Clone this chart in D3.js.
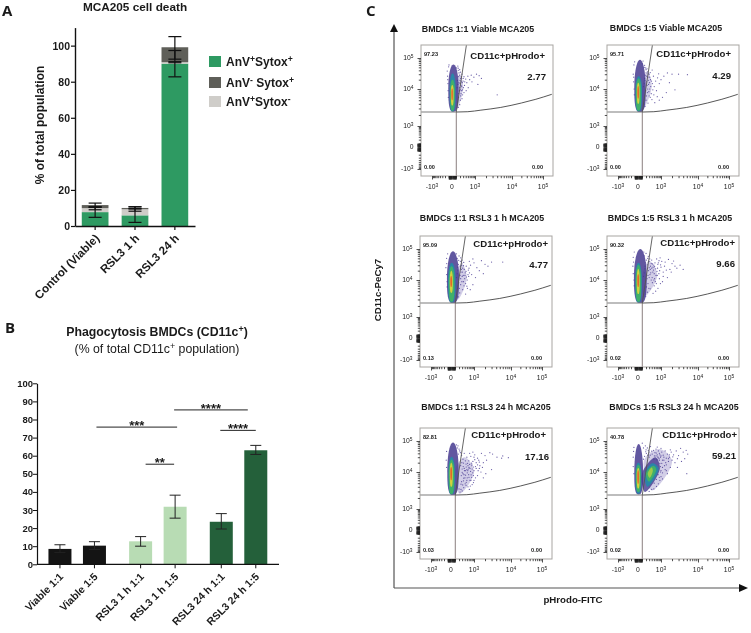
<!DOCTYPE html>
<html><head><meta charset="utf-8">
<script src="https://cdn.jsdelivr.net/npm/d3@7"></script>
<style>
html,body{margin:0;padding:0;background:#fff}
svg{display:block;filter:blur(0.3px)}
text{font-family:"Liberation Sans",Arial,sans-serif;fill:#1a1a1a}
</style></head><body><svg id="c" width="751" height="633"></svg>
<script>
// ---------- Panel A data
const deathCategories=["Control (Viable)","RSL3 1 h","RSL3 24 h"];
const seriesGreen=[7.7,5.9,90];
const seriesLight=[2.2,3.4,0.8];
const seriesDark=[1.7,0.7,8.3];
const errGreen=[[4.8,10.6],[2,9.6],[82.7,97.3]];
const errLight=[[9,10.6],[8.2,10.6],[90.5,91.1]];
const errDark=[[10.3,12.7],[9.5,10.7],[92.5,105]];
const deathTicks=[0,20,40,60,80,100];
// ---------- Panel B data
const phagoCategories=["Viable 1:1","Viable 1:5","RSL3 1 h 1:1","RSL3 1 h 1:5","RSL3 24 h 1:1","RSL3 24 h 1:5"];
const phagoGroups=["Viable","RSL3 1 h","RSL3 24 h"];
const phagoValues=[8.5,10.3,12.7,31.8,23.5,63];
const phagoLow=[6.5,8.2,10,25.5,19.5,60.7];
const phagoHigh=[10.8,12.5,15.3,38.2,28,65.7];
const phagoTicks=[0,10,20,30,40,50,60,70,80,90,100];
const sigFrom=[1,2,3,4];
const sigTo=[3,3,5,5];
const sigLevel=[75.8,55.3,85.3,74];
const sigLabel=["***","**","****","****"];
// ---------- Panel C data
const flowTitles=["BMDCs 1:1 Viable MCA205","BMDCs 1:5 Viable MCA205","BMDCs 1:1 RSL3 1 h MCA205","BMDCs 1:5 RSL3 1 h MCA205","BMDCs 1:1 RSL3 24 h MCA205","BMDCs 1:5 RSL3 24 h MCA205"];
const flowUL=["97.23","95.71","95.09","90.32","82.81","40.78"];
const flowLL=["0.00","0.00","0.13","0.02","0.03","0.02"];
const flowLR=["0.00","0.00","0.00","0.00","0.00","0.00"];
const flowUR=["2.77","4.29","4.77","9.66","17.16","59.21"];
const flowTickValues=[-1000,0,1000,10000,100000];
const flowGateH=2400, flowGateV=100;
const flowCurve=[[100,2400],[500,2450],[1450,2700],[5000,3200],[20000,4200],[59000,5300],[192000,7200]];
const flowDiag=[[100,2400],[430,260000]];
// left population contours, outer to inner: [xLow,xHigh,yLow,yMid,yHigh]
const blob1=[[-100,160,2450,11000,62000],[-65,85,2450,9500,32000],[-50,65,2600,8500,20000],[-30,38,3600,8500,13500],[-16,20,5000,8000,10500]];
const blob2=[[-100,190,2400,11000,88000],[-70,95,2450,9500,26000],[-55,75,2600,8500,22000],[-30,38,4000,9000,16000],[-16,22,5500,9000,12500]];
const blob3=[[-110,200,2400,11000,85000],[-80,105,2450,10000,36000],[-60,80,2600,9000,28000],[-32,42,4500,10000,20000],[-18,24,6500,10000,13500]];
const blob4=[[-110,220,2400,12000,100000],[-75,90,2450,10000,36000],[-60,75,2600,9500,31000],[-32,40,4200,10000,23000],[-18,24,6500,11000,15500]];
const blob5=[[-100,190,2400,11000,90000],[-70,90,2450,10000,31000],[-60,75,2550,9500,25000],[-32,40,4000,10000,20000],[-18,24,6000,11000,14500]];
const blob6=[[-100,120,2500,9500,80000],[-70,80,2600,8500,20000],[-55,65,2900,8500,17000],[-32,38,3600,8500,13500],[-18,22,4800,8500,11500]];
// second population of the last panel: bottom, right, top, left
const secondBlob6=[
 [[170,2900],[900,13000],[580,30000],[100,9500]],
 [[240,4000],[800,13000],[430,19000],[170,9500]],
 [[290,5500],[640,12000],[480,16000],[200,9500]],
 [[320,7000],[450,11000],[400,14000],[250,9000]]];
// sparse purple haze beside the main population: bottom, right, top, left
const haze1=[[130,3000],[300,12000],[200,30000],[100,12000]];
const haze2=[[130,3000],[400,12000],[250,36000],[100,12000]];
const haze3=[[170,3000],[500,12000],[280,34000],[100,12000]];
const haze4=[[150,3500],[700,14000],[300,42000],[100,14000]];
const haze5=[[220,2600],[1000,10000],[400,30000],[100,12000]];
const haze6=[[400,3200],[2000,22000],[900,55000],[150,25000]];
const dots1=[[150,40000],[180,28000],[220,22000],[200,15000],[260,30000],[300,18000],[330,25000],[250,12000],[180,9000],[230,7500],[280,9500],[350,13000],[400,21000],[450,16000],[500,26000],[520,11000],[600,20000],[700,28000],[750,17000],[900,24000],[1100,30000],[1300,27000],[1500,22000],[1200,14000],[160,6000],[210,5000],[190,3800],[150,3200],[130,4500],[140,55000],[110,48000],[170,33000],[-120,26000],[-110,15000],[-130,38000],[-90,52000],[-80,60000],[120,11000],[140,14000],[130,19000],[160,25000],[420,9000],[4000,7000],[240,17000],[210,35000],[190,11000],[160,7500],[230,13000],[270,16000],[310,11000],[200,19000],[240,25000],[280,7000],[330,8000],[220,6500],[260,5500],[300,22000],[360,17000],[190,42000],[150,47000],[170,16000],[210,9500],[250,9000],[-105,9000],[-115,20000],[-100,6000]];
const dots2=[[150,50000],[200,42000],[240,36000],[180,28000],[260,24000],[300,30000],[350,20000],[220,17000],[280,14000],[320,10000],[240,8000],[300,6500],[380,7500],[200,5000],[260,4200],[170,3400],[430,15000],[480,26000],[520,12000],[600,18000],[650,9000],[720,23000],[800,31000],[850,15000],[1000,20000],[1200,26000],[1500,33000],[2000,30000],[2400,9500],[5200,29000],[3000,30000],[1100,6000],[850,5000],[550,4300],[-130,30000],[-120,17000],[-110,60000],[-90,75000],[120,80000],[100,65000],[130,12000],[150,15000],[170,19000],[190,9000],[210,6500],[160,22000],[340,34000],[420,41000],[1700,16000],[1400,8000],[700,6200],[230,13000],[270,19000],[310,16000],[360,12000],[250,10000],[290,8500],[340,6000],[220,26000],[270,31000],[320,24000],[390,18000],[200,33000],[160,58000],[190,48000],[230,45000],[450,9500],[500,7000],[410,5200],[-105,10000],[-115,24000],[-100,7000]];
const dots3=[[150,50000],[200,60000],[240,40000],[280,30000],[180,32000],[320,24000],[360,37000],[260,18000],[300,13000],[350,9000],[250,7500],[320,5500],[220,4500],[180,3500],[420,17000],[470,28000],[520,10000],[580,21000],[640,40000],[720,30000],[800,15000],[900,48000],[1000,36000],[1200,25000],[1600,42000],[2000,32000],[3000,38000],[6000,38000],[1400,20000],[1100,12000],[900,7500],[700,5500],[600,13000],[500,6800],[440,4200],[-140,25000],[-120,15000],[-120,50000],[-90,70000],[130,70000],[130,12000],[150,16000],[170,21000],[190,8500],[210,6000],[160,26000],[400,11000],[460,19000],[380,22000],[650,17000],[300,44000],[250,52000],[2400,28000],[1800,16000],[230,14000],[270,22000],[310,18000],[340,14000],[250,11000],[290,9000],[370,7000],[240,28000],[290,35000],[350,29000],[410,14000],[440,8000],[530,6000],[480,12500],[560,15000],[620,24000],[190,43000],[-105,9000],[-115,34000],[-105,6500]];
const dots4=[[150,60000],[200,72000],[250,50000],[300,40000],[180,36000],[350,28000],[400,44000],[280,20000],[330,15000],[380,10000],[260,8000],[340,5800],[240,4700],[190,3600],[450,18000],[500,30000],[540,11000],[600,23000],[660,48000],[740,32000],[820,16000],[920,52000],[1050,40000],[1250,28000],[1600,46000],[2000,34000],[2700,24000],[3300,30000],[4000,22000],[1400,21000],[1150,13000],[950,8000],[750,6000],[620,14000],[520,7000],[460,4400],[-140,28000],[-130,16000],[-130,54000],[-100,80000],[140,80000],[130,13000],[150,17000],[170,23000],[190,9500],[210,6500],[170,28000],[420,12000],[480,21000],[400,24000],[680,19000],[320,48000],[270,58000],[2400,28000],[1900,18000],[1500,12000],[1100,9000],[860,11000],[720,24000],[560,36000],[440,33000],[300,25000],[260,14000],[230,11000],[360,17000],[430,8500],[580,9000],[780,36000],[1000,26000],[1300,38000],[1750,22000],[2200,41000],[600,5000],[520,16000],[830,42000],[240,31000],[210,44000],[300,12000],[340,22000],[380,34000],[460,26000],[540,27000],[700,14000],[880,20000],[960,31000],[1150,18000],[640,8000],[500,10000],[290,6000],[-110,10000],[-120,38000],[-105,7000]];
const dots5=[[150,60000],[200,55000],[240,42000],[280,34000],[180,38000],[330,26000],[380,40000],[290,20000],[340,15000],[390,11000],[270,8000],[350,5800],[260,4700],[200,3500],[460,18000],[500,30000],[550,11000],[610,23000],[660,40000],[740,32000],[820,16000],[900,44000],[1050,36000],[1250,28000],[1600,40000],[2000,34000],[2700,42000],[3200,38000],[4200,30000],[5600,28000],[8500,29000],[6000,33000],[1400,21000],[1150,13000],[950,8000],[750,6000],[620,14000],[520,7000],[460,4400],[-130,24000],[-120,14000],[-120,46000],[170,70000],[130,75000],[220,48000],[300,12500],[330,9000],[410,7000],[470,5300],[560,4000],[640,3400],[360,3800],[300,3100],[230,2900],[680,6000],[800,7200],[890,9500],[1000,11000],[1100,15000],[1250,17000],[1400,13000],[1550,10000],[1250,8000],[1000,6000],[840,4600],[700,4200],[600,8500],[720,10500],[840,12500],[960,14500],[660,17500],[780,19500],[900,22000],[1050,25000],[540,19000],[430,23000],[350,19500],[250,16000],[300,9800],[380,13000],[470,14500],[580,12500],[520,9500],[440,8200],[360,6800],[280,5500],[1800,20000],[2200,24000],[1700,14000],[2100,9000],[1800,7000],[3000,12000],[1150,20000],[1300,11000],[1100,7000],[950,5200],[760,8400],[680,13000],[820,18000],[620,7200],[500,12000],[560,16000],[440,11000],[370,8500],[320,4500],[420,4800],[500,6000],[260,3400],[1450,16000],[1350,24000],[1000,30000]];
const dots6=[[180,70000],[240,60000],[300,44000],[200,52000],[350,66000],[420,38000],[480,50000],[560,42000],[620,55000],[700,36000],[780,48000],[860,40000],[950,30000],[1050,44000],[1150,35000],[1300,48000],[1500,38000],[1700,30000],[1900,44000],[2200,36000],[2600,48000],[3000,34000],[3400,58000],[4000,44000],[4800,50000],[5300,38000],[2000,24000],[2400,20000],[2800,27000],[1600,22000],[1400,17000],[1200,24000],[1050,19000],[1300,12000],[1100,9500],[1000,7500],[900,6000],[780,4800],[650,4100],[500,3500],[1800,14000],[1500,9000],[950,15000],[860,24000],[760,29000],[680,25000],[1100,14000],[1000,11000],[760,8500],[640,6300],[520,5000],[400,3400],[300,3000],[210,40000],[160,32000],[130,26000],[-130,30000],[-120,46000],[-130,15000],[-110,62000],[100,85000],[130,60000],[5000,9000],[3600,22000],[4400,27000],[2800,14000],[300,30000],[250,35000],[1800,52000],[1000,58000],[700,64000],[500,26000],[620,33000],[900,36000],[1200,30000],[1600,27000],[2100,31000],[190,45000],[270,50000],[340,35000],[400,47000],[530,33000],[640,41000],[740,31000],[830,27000],[1000,33000],[1100,24000],[1350,20000],[1250,16000],[1400,28000],[1700,36000],[900,19000],[950,10000],[1100,6500],[850,7200],[1400,11000],[-110,9000]];
const minorDecades=[10,100,1000,10000];
const minorMultiples=[2,3,4,5,6,7,8,9];

const allBlobs=[blob1,blob2,blob3,blob4,blob5,blob6];
const allDots=[dots1,dots2,dots3,dots4,dots5,dots6];
const allHaze=[haze1,haze2,haze3,haze4,haze5,haze6];
// layout
const panelBoxes=[[421,45],[607,45],[420,236],[607,236],[420,428],[607,428]];
const titleAt=[[478,32],[666,31],[482,221],[670,221],[486,410],[674,410]];
const gateAt=[[545,59],[731,57],[548,247],[735,246],[546,438],[737,438]];
const valueAt=[[546,80],[731,79],[548,268],[735,267],[549,460],[736,459]];
const levelColors=["#46388f","#2a85a8","#3fb06a","#d2d23e","#e4682c"];
const secondLevelColors=["#46388f","#2a85a8","#3fb06a","#9fca4c"];

const svg=d3.select("#c");
function supText(sel,parts){
  parts.forEach(p=>{
    const t=sel.append("tspan").text(p[0]);
    if(p[1]==="s") t.attr("dy","-0.42em").attr("font-size","0.72em");
    if(p[1]==="n") t.attr("dy","0.3em");
  });
}
function letter(txt,x,y){svg.append("text").attr("x",x).attr("y",y).style("font-family","'Open Sans'").attr("font-size",15).attr("font-weight",700).text(txt);}
letter("A",2,16);letter("B",5,333);letter("C",366,16);

// ---------- Panel A
{
 const g=svg.append("g");
 const y=d3.scaleLinear().domain([0,110]).range([226,27.6]);
 const x=d3.scaleBand().domain(deathCategories).range([75,195]).paddingInner(0.33).paddingOuter(0.17);
 const stack=[seriesGreen,seriesLight,seriesDark], cols=["#2e9a62","#cfcdc9","#5f5f59"], errs=[errGreen,errLight,errDark];
 deathCategories.forEach((c,i)=>{
  let b=0;
  stack.forEach((s,k)=>{
   g.append("rect").attr("x",x(c)).attr("width",x.bandwidth()).attr("y",y(b+s[i])).attr("height",y(b)-y(b+s[i])).attr("fill",cols[k]);
   b+=s[i];
  });
 });
 deathCategories.forEach((c,i)=>{
  const cx=x(c)+x.bandwidth()/2;
  errs.forEach(e=>{
   const [lo,hi]=e[i];
   g.append("line").attr("x1",cx).attr("x2",cx).attr("y1",y(lo)).attr("y2",y(hi)).attr("stroke","#111").attr("stroke-width",1.2);
   [lo,hi].forEach(v=>g.append("line").attr("x1",cx-6.5).attr("x2",cx+6.5).attr("y1",y(v)).attr("y2",y(v)).attr("stroke","#111").attr("stroke-width",1.2));
  });
 });
 const ya=g.append("g").attr("transform","translate(75,0)").call(d3.axisLeft(y).tickValues(deathTicks).tickSize(4).tickSizeOuter(0));
 const xa=g.append("g").attr("transform","translate(0,226)").call(d3.axisBottom(x).tickSize(4).tickSizeOuter(0));
 [ya,xa].forEach(a=>{a.select(".domain").attr("stroke","#111").attr("stroke-width",1.4);a.selectAll("line").attr("stroke","#111").attr("stroke-width",1.2);a.selectAll("text").attr("font-size",10.5).attr("font-weight",700).style("font-family","'Liberation Sans'").attr("fill","#1a1a1a");});
 ya.selectAll("text").attr("x",-5);
 xa.selectAll("text").attr("font-size",11.6).attr("text-anchor","end").attr("transform","translate(5,13) rotate(-45)").attr("x",0).attr("y",0).attr("dy",0);
 g.append("text").attr("x",135).attr("y",10.5).attr("text-anchor","middle").attr("font-size",11.8).attr("font-weight",700).text("MCA205 cell death");
 g.append("text").attr("transform","translate(44,125) rotate(-90)").attr("text-anchor","middle").attr("font-size",12).attr("font-weight",700).text("% of total population");
 const leg=[[["AnV"],["+","s"],["Sytox","n"],["+","s"]],[["AnV"],["-","s"],[" Sytox","n"],["+","s"]],[["AnV"],["+","s"],["Sytox","n"],["-","s"]]];
 const legCols=["#2e9a62","#5f5f59","#cfcdc9"], legY=[56,77,96];
 leg.forEach((l,i)=>{
  g.append("rect").attr("x",209).attr("y",legY[i]).attr("width",12).attr("height",11).attr("fill",legCols[i]);
  const t=g.append("text").attr("x",226).attr("y",legY[i]+10).attr("font-size",12).attr("font-weight",700);
  supText(t,l);
 });
}
// ---------- Panel B
{
 const g=svg.append("g");
 const y=d3.scaleLinear().domain([0,100]).range([564.3,383.3]);
 const gx=d3.scaleBand().domain(phagoGroups).range([37,279]).paddingInner(0).paddingOuter(0);
 const sub=d3.scaleBand().domain([0,1]).range([0,69]);
 const cx=i=>gx(phagoGroups[Math.floor(i/2)])+sub(i%2)+sub.bandwidth()/2+5.7;
 const cols=["#141414","#141414","#b8dcb4","#b8dcb4","#24603a","#24603a"];
 phagoCategories.forEach((c,i)=>{
  g.append("rect").attr("x",cx(i)-11.5).attr("width",23).attr("y",y(phagoValues[i])).attr("height",y(0)-y(phagoValues[i])).attr("fill",cols[i]);
  g.append("line").attr("x1",cx(i)).attr("x2",cx(i)).attr("y1",y(phagoLow[i])).attr("y2",y(phagoHigh[i])).attr("stroke","#222");
  [phagoLow[i],phagoHigh[i]].forEach(v=>g.append("line").attr("x1",cx(i)-5.5).attr("x2",cx(i)+5.5).attr("y1",y(v)).attr("y2",y(v)).attr("stroke","#222"));
  g.append("line").attr("x1",cx(i)).attr("x2",cx(i)).attr("y1",y(0)).attr("y2",y(0)+4).attr("stroke","#111");
  g.append("text").attr("transform",`translate(${cx(i)+4},${y(0)+13}) rotate(-45)`).attr("text-anchor","end").attr("font-size",10.5).attr("font-weight",700).text(c);
 });
 const ya=g.append("g").attr("transform","translate(37,0)").call(d3.axisLeft(y).tickValues(phagoTicks).tickSize(4).tickSizeOuter(0));
 ya.select(".domain").attr("stroke","#111").attr("stroke-width",1.2);
 ya.selectAll("line").attr("stroke","#111");
 ya.selectAll("text").attr("font-size",9.5).attr("font-weight",700).style("font-family","'Liberation Sans'").attr("fill","#1a1a1a").attr("x",-4);
 g.append("line").attr("x1",37).attr("x2",279).attr("y1",y(0)).attr("y2",y(0)).attr("stroke","#111").attr("stroke-width",1.2);
 const nudge=[[2,2],[5,-1],[-1,-8],[-1,0]];
 sigFrom.forEach((f,i)=>{
  const a=cx(f)+nudge[i][0], b=cx(sigTo[i])+nudge[i][1], yy=y(sigLevel[i]);
  g.append("line").attr("x1",a).attr("x2",b).attr("y1",yy).attr("y2",yy).attr("stroke","#222").attr("stroke-width",1);
  g.append("text").attr("x",(a+b)/2).attr("y",yy+3).attr("text-anchor","middle").attr("font-size",13).attr("font-weight",700).text(sigLabel[i]);
 });
 const t1=g.append("text").attr("x",157).attr("y",336).attr("text-anchor","middle").attr("font-size",12.3).attr("font-weight",700);
 supText(t1,[["Phagocytosis BMDCs (CD11c"],["+","s"],[")","n"]]);
 const t2=g.append("text").attr("x",157).attr("y",353).attr("text-anchor","middle").attr("font-size",12.3);
 supText(t2,[["(% of total CD11c"],["+","s"],[" population)","n"]]);
}
// ---------- Panel C
{
 const W=132,H=131;
 const knots=flowTickValues, tf=v=>Math.asinh(v/250);
 function biex(rangePx){
  const s=d3.scaleLinear().domain(knots.map(tf)).range(rangePx);
  const f=v=>s(tf(v));
  f.copy=()=>f; f.range=()=>[rangePx[0],rangePx[rangePx.length-1]];
  return f;
 }
 const x=biex([11,31,54,91,122]);
 const y=biex([124,102,81,44,13]);
 const minor=minorDecades.flatMap(d=>minorMultiples.map(m=>d*m)).filter(v=>v<1e5);
 const minorAll=minor.concat(minor.filter(v=>v<1000).map(v=>-v));
 const nearZero=minorAll.filter(v=>Math.abs(v)<100);
 const closed=d3.line().x(d=>x(d[0])).y(d=>y(d[1])).curve(d3.curveCatmullRomClosed.alpha(0.5));
 const open=d3.line().x(d=>x(d[0])).y(d=>y(d[1])).curve(d3.curveMonotoneX);
 const pxLine=d3.line().curve(d3.curveLinearClosed);
 function eggPath(b){
  const [lo,hi,yl,ym,yh]=b, xl=x(lo), xh=x(hi), cxp=(xl+xh)/2, rx=(xh-xl)/2, cyp=y(ym);
  const pts=d3.range(0,48).map(k=>{
   const a=k/48*2*Math.PI, c=Math.cos(a), s=Math.sin(a);
   const down=s>0, p=down?3:2;
   const px=cxp+rx*Math.sign(c)*Math.pow(Math.abs(c),2/p);
   const py=cyp+(down?y(yl)-cyp:cyp-y(yh))*Math.sign(s)*Math.pow(Math.abs(s),2/p);
   return [px,py];
  });
  return pxLine(pts);
 }
 const defs=svg.append("defs");
 defs.append("clipPath").attr("id","flowClip").append("rect").attr("width",W).attr("height",H);
 defs.append("filter").attr("id","soft").attr("x","-30%").attr("y","-30%").attr("width","160%").attr("height","160%")
   .append("feGaussianBlur").attr("stdDeviation",0.55);
 flowTitles.forEach((title,i)=>{
  const [bx,by]=panelBoxes[i];
  const g=svg.append("g").attr("transform",`translate(${bx},${by})`);
  const inner=g.append("g").attr("clip-path","url(#flowClip)");
  inner.append("path").attr("d",closed(allHaze[i])).attr("fill","#6a5fae").attr("opacity",0.3).attr("filter","url(#soft)");
  inner.append("g").selectAll("circle").data(allDots[i]).join("circle")
   .attr("cx",d=>x(d[0])).attr("cy",d=>y(d[1])).attr("r",0.62).attr("fill","#4f4196").attr("opacity",0.85);
  const cg=inner.append("g").attr("filter","url(#soft)");
  allBlobs[i].forEach((b,k)=>{
   cg.append("path").attr("d",eggPath(b)).attr("fill",levelColors[k]).attr("opacity",k===0?0.85:1);
  });
  if(i===5) secondBlob6.forEach((p,k)=>cg.append("path").attr("d",closed(p)).attr("fill",secondLevelColors[k]).attr("opacity",k===0?0.8:1));
  inner.append("line").attr("x1",0).attr("x2",x(flowGateV)).attr("y1",y(flowGateH)).attr("y2",y(flowGateH)).attr("stroke","#7d7d7d").attr("stroke-width",1.1);
  inner.append("line").attr("x1",x(flowGateV)).attr("x2",x(flowGateV)).attr("y1",y(flowGateH)).attr("y2",H).attr("stroke","#8a7f7f").attr("stroke-width",1);
  inner.append("path").attr("d",open(flowCurve)).attr("fill","none").attr("stroke","#444").attr("stroke-width",0.9);
  inner.append("line").attr("x1",x(flowDiag[0][0])).attr("y1",y(flowDiag[0][1])).attr("x2",x(flowDiag[1][0])).attr("y2",y(flowDiag[1][1])).attr("stroke","#555").attr("stroke-width",0.9);
  g.append("rect").attr("width",W).attr("height",H).attr("fill","none").attr("stroke","#a8a5a2").attr("stroke-width",1);
  const ax=g.append("g").attr("transform",`translate(0,${H})`).call(d3.axisBottom(x).tickValues(flowTickValues).tickSize(3.5).tickSizeOuter(0).tickFormat(()=>""));
  const ay=g.append("g").call(d3.axisLeft(y).tickValues(flowTickValues).tickSize(3.5).tickSizeOuter(0).tickFormat(()=>""));
  const axm=g.append("g").attr("transform",`translate(0,${H})`).call(d3.axisBottom(x).tickValues(minorAll).tickSize(2.2).tickSizeOuter(0).tickFormat(()=>""));
  const aym=g.append("g").call(d3.axisLeft(y).tickValues(minorAll).tickSize(2.2).tickSizeOuter(0).tickFormat(()=>""));
  const axz=g.append("g").attr("transform",`translate(0,${H})`).call(d3.axisBottom(x).tickValues(nearZero).tickSize(3.5).tickSizeOuter(0).tickFormat(()=>""));
  const ayz=g.append("g").call(d3.axisLeft(y).tickValues(nearZero).tickSize(3.5).tickSizeOuter(0).tickFormat(()=>""));
  [ax,ay,axm,aym,axz,ayz].forEach(a=>{a.select(".domain").remove();a.selectAll("line").attr("stroke","#222").attr("stroke-width",0.8);});
  const exp={"-1000":[["-10"],["3","s"]],"0":[["0"]],"1000":[["10"],["3","s"]],"10000":[["10"],["4","s"]],"100000":[["10"],["5","s"]]};
  flowTickValues.forEach(v=>{
   const tx=g.append("text").attr("x",x(v)).attr("y",H+13).attr("text-anchor","middle").attr("font-size",6.8).attr("fill","#333");
   supText(tx,exp[v]);
   const ty=g.append("text").attr("x",-7.5).attr("y",y(v)+2).attr("text-anchor","end").attr("font-size",6.8).attr("fill","#333");
   supText(ty,exp[v]);
  });
  g.append("text").attr("x",3).attr("y",11).attr("font-size",5.6).attr("font-weight",700).text(flowUL[i]);
  g.append("text").attr("x",3).attr("y",124).attr("font-size",5.6).attr("font-weight",700).text(flowLL[i]);
  g.append("text").attr("x",122).attr("y",124).attr("text-anchor","end").attr("font-size",5.6).attr("font-weight",700).text(flowLR[i]);
  svg.append("text").attr("x",titleAt[i][0]).attr("y",titleAt[i][1]).attr("text-anchor","middle").attr("font-size",8.85).attr("font-weight",700).text(title);
  svg.append("text").attr("x",gateAt[i][0]).attr("y",gateAt[i][1]).attr("text-anchor","end").attr("font-size",9.6).attr("font-weight",700).text("CD11c+pHrodo+");
  svg.append("text").attr("x",valueAt[i][0]).attr("y",valueAt[i][1]).attr("text-anchor","end").attr("font-size",9.6).attr("font-weight",700).text(flowUR[i]);
 });
 svg.append("line").attr("x1",394).attr("x2",394).attr("y1",32).attr("y2",588).attr("stroke","#333").attr("stroke-width",1);
 svg.append("line").attr("x1",394).attr("x2",740).attr("y1",588).attr("y2",588).attr("stroke","#555").attr("stroke-width",1.2);
 svg.append("path").attr("d","M394,24L398,32L390,32Z").attr("fill","#111");
 svg.append("path").attr("d","M748,588L739,584L739,592Z").attr("fill","#111");
 svg.append("text").attr("transform","translate(381,290) rotate(-90)").attr("text-anchor","middle").attr("font-size",9.7).attr("font-weight",700).text("CD11c-PeCy7");
 svg.append("text").attr("x",573).attr("y",603).attr("text-anchor","middle").attr("font-size",9.7).attr("font-weight",700).text("pHrodo-FITC");
}
</script></body></html>
